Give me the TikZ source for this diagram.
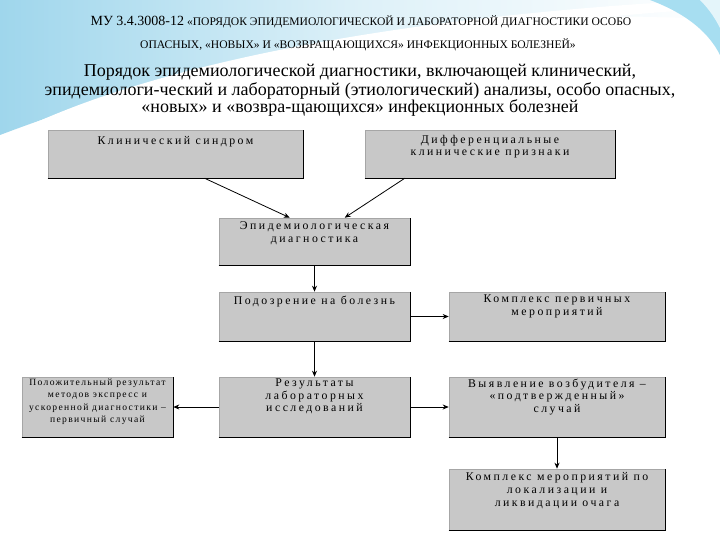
\documentclass[tikz,border=0pt]{standalone}
\usepackage{fontspec}
\setmainfont{Liberation Serif}
\newfontfamily\boxfont[LetterSpace=21]{Liberation Serif}
\newfontfamily\boxfontn[LetterSpace=14]{Liberation Serif}
\usetikzlibrary{arrows.meta,calc}
\definecolor{boxgray}{HTML}{C8C8C8}
\definecolor{skyA}{HTML}{9FD6EC}
\definecolor{skyB}{HTML}{6CC8E8}
\begin{document}
\begin{tikzpicture}[x=1pt,y=-1pt,
  box/.style={rectangle,fill=boxgray,draw=black!35,line width=0.6pt,inner sep=0pt},
  boxtext/.style={font=\boxfont\fontsize{11.8}{12.6}\selectfont,align=center,anchor=north,inner sep=0pt},
  arr/.style={line width=0.8pt,-{Stealth[length=6pt,width=5pt]}},
  ttl/.style={font=\fontsize{11.6}{13}\selectfont,anchor=center,inner sep=0pt},
  sub/.style={font=\fontsize{18}{20}\selectfont,anchor=center,inner sep=0pt}]
\useasboundingbox (0,0) rectangle (720,540);
\fill[white] (0,0) rectangle (720,540);
% background swooshes
\shade[left color=skyA, right color=white, middle color=skyA!35!white]
  (0,0) -- (720,0) -- (720,20) .. controls (520,5) and (250,40) .. (0,135) -- cycle;
\fill[white] (0,140) .. controls (150,60) and (420,15) .. (705,0) -- (720,0) -- (720,8) .. controls (450,25) and (200,70) .. (0,150) -- cycle;
\fill[skyB!60!white] (650,0) .. controls (690,15) and (710,35) .. (720,55) -- (720,0) -- cycle;
\fill[white,opacity=0.7] (700,0) .. controls (710,10) and (716,20) .. (720,28) -- (720,0) -- cycle;
% titles
\node[ttl] (t1) at (361,22) {{\fontsize{14}{15}\selectfont МУ 3.4.3008-12} «ПОРЯДОК ЭПИДЕМИОЛОГИЧЕСКОЙ И ЛАБОРАТОРНОЙ ДИАГНОСТИКИ ОСОБО};
\node[ttl] (t2) at (358,45) {ОПАСНЫХ, «НОВЫХ» И «ВОЗВРАЩАЮЩИХСЯ» ИНФЕКЦИОННЫХ БОЛЕЗНЕЙ»};
\node[sub] (s1) at (360,72) {Порядок эпидемиологической диагностики, включающей клинический,};
\node[sub] (s2) at (360,91) {эпидемиологи-ческий и лабораторный (этиологический) анализы, особо опасных,};
\node[sub] (s3) at (360,108) {«новых» и «возвра-щающихся» инфекционных болезней};
% boxes
\node[box,minimum width=255,minimum height=48] (k1) at (175.5,154) {};
\node[box,minimum width=250,minimum height=48] (k2) at (490,154) {};
\node[box,minimum width=191,minimum height=47] (epi) at (314.5,241.5) {};
\node[box,minimum width=191,minimum height=49] (pod) at (314.5,316.5) {};
\node[box,minimum width=216,minimum height=49] (kpm) at (557,316.5) {};
\node[box,minimum width=191,minimum height=60] (res) at (314.5,407) {};
\node[box,minimum width=151,minimum height=60] (pol) at (97.5,407) {};
\node[box,minimum width=216,minimum height=60] (vyy) at (557,407) {};
\node[box,minimum width=216,minimum height=61] (kml) at (557,499.5) {};
\foreach \n in {k1,k2,epi,pod,kpm,res,pol,vyy,kml}
  \draw[black,line width=1pt] (\n.south west) -- (\n.south east) -- (\n.north east);
% box texts
\node[boxtext] (k1t) at ([yshift=-7]k1.north) {Клинический синдром};
\node[boxtext] (k2t) at ([yshift=-5]k2.north) {Дифференциальные\\клинические признаки};
\node[boxtext] (epit) at ([yshift=-4]epi.north) {Эпидемиологическая\\диагностика};
\node[boxtext] (podt) at ([yshift=-4]pod.north) {Подозрение на болезнь};
\node[boxtext] (kpmt) at ([yshift=-3]kpm.north) {Комплекс первичных\\мероприятий};
\node[boxtext] (rest) at ([yshift=-2]res.north) {Результаты\\лабораторных\\исследований};
\node[boxtext,font=\boxfontn\fontsize{9.6}{12.4}\selectfont] (polt) at ([yshift=-2]pol.north) {Положительный результат\\методов экспресс и\\ускоренной диагностики –\\первичный случай};
\node[boxtext] (vyyt) at ([yshift=-2]vyy.north) {Выявление возбудителя –\\«подтвержденный»\\случай};
\node[boxtext] (kmlt) at ([yshift=-4]kml.north) {Комплекс мероприятий по\\локализации и\\ликвидации очага};
% connectors
\draw[arr] ([xshift=157]k1.south west) -- ([xshift=71]epi.north west);
\draw[arr] ([xshift=40]k2.south west) -- ([xshift=126]epi.north west);
\draw[arr] (epi.south) -- (pod.north);
\draw[arr] (pod.east) -- (kpm.west);
\draw[arr] (pod.south) -- (res.north);
\draw[arr] (res.west) -- (pol.east);
\draw[arr] (res.east) -- (vyy.west);
\draw[arr] (vyy.south) -- (kml.north);
\end{tikzpicture}
\end{document}
